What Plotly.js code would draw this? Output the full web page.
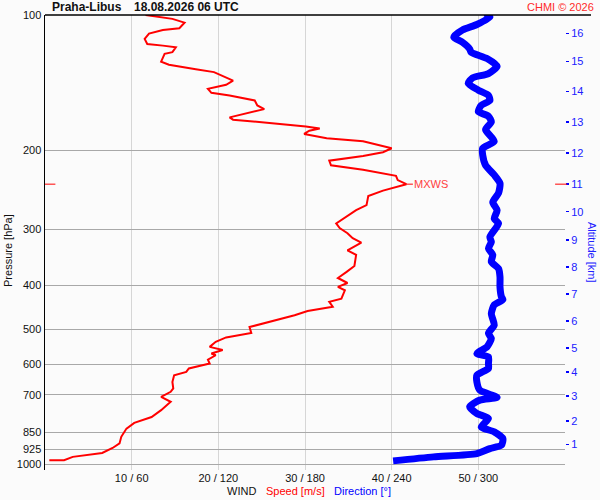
<!DOCTYPE html>
<html>
<head>
<meta charset="utf-8">
<script src="https://cdn.plot.ly/plotly-3.0.1.min.js"></script>
<style>
  html, body { margin: 0; padding: 0; background: #fbfbfb; }
  #chart { width: 600px; height: 500px; }
</style>
</head>
<body>
<div id="chart"></div>
<script>
// wind speed profile, surface upwards (hPa, m/s)
var speedPres = [980, 980, 963, 944, 920, 899, 869, 833, 809, 785, 758, 726, 708, 690, 678, 656, 634, 623, 612, 597,
  585, 572, 567, 557, 548, 534, 522, 510, 495, 482, 466, 456, 446, 435, 428, 410, 403, 395, 385, 373,
  362, 342, 334, 321, 314, 306, 298, 291, 281, 272, 265, 253, 246, 241, 238, 233, 228, 221, 216, 211,
  206, 202, 198, 191, 188, 184, 181, 179, 177, 174, 171, 169, 164, 162, 159, 155, 151, 149, 146, 143,
  140, 136, 134, 132, 129, 127, 122, 121, 118, 117, 116, 113, 110, 108, 107, 104, 102, 100];
var speed = [0.5, 2.2, 3.2, 6.6, 7.8, 8.6, 8.8, 9.4, 10.3, 12.3, 13.4, 14.5, 13.4, 14.5, 14.8, 14.7, 14.9, 16.3, 16.6, 19.0,
  18.8, 19.7, 19.2, 20.5, 19.0, 19.7, 20.9, 23.8, 23.6, 25.9, 28.8, 30.3, 33.2, 32.8, 34.2, 34.6, 33.8, 34.9, 33.8, 34.8,
  35.7, 35.9, 34.9, 36.5, 35.5, 34.9, 34.0, 33.6, 34.8, 35.9, 37.1, 37.3, 39.0, 40.5, 41.7, 40.7, 40.5, 36.7, 33.0, 32.8,
  36.7, 39.0, 40.0, 36.7, 32.5, 29.9, 30.5, 31.7, 30.1, 25.9, 21.7, 21.3, 24.4, 25.3, 24.5, 24.2, 21.3, 19.2, 18.8, 20.9,
  21.7, 20.1, 19.5, 17.4, 14.3, 13.4, 13.8, 14.7, 15.1, 13.6, 11.8, 11.5, 12.0, 13.6, 15.5, 16.1, 14.7, 11.6];

// wind direction profile, surface upwards (hPa, degrees)
var dirPres = [983, 963, 947, 923, 907, 877, 847, 826, 791, 771, 745, 720, 710, 684, 656, 634, 612, 597, 577, 567,
  548, 525, 511, 490, 462, 442, 430, 424, 403, 383, 367, 354, 342, 331, 320, 312, 291, 284, 272, 261,
  249, 237, 227, 216, 205, 198, 191, 180, 173, 168, 164, 159, 155, 151, 147, 142, 138, 135, 130, 125,
  121, 119, 115, 112, 108, 105, 101, 99];
var direction = [241, 269, 299, 308, 316, 317, 311, 302, 307, 299, 294, 301, 313, 301, 299, 299, 307, 307, 307, 299,
  306, 309, 307, 311, 309, 311, 317, 316, 315, 315, 314, 309, 310, 307, 309, 308, 314, 311, 313, 310,
  314, 315, 311, 305, 303, 303, 311, 305, 309, 307, 300, 302, 308, 307, 300, 293, 296, 307, 313, 306,
  295, 294, 289, 283, 289, 299, 308, 305];

var pressTicks = [100, 200, 300, 400, 500, 600, 700, 850, 925, 1000];
var speedTicks = [10, 20, 30, 40, 50];
var dirTicks = [60, 120, 180, 240, 300];
var altKm = [1, 2, 3, 4, 5, 6, 7, 8, 9, 10, 11, 12, 13, 14, 15, 16];
var altPres = [904, 802, 705, 624, 551, 480, 418, 364, 317, 274, 238, 203, 173, 148, 127, 110];

var font = 'Arial, "Liberation Sans", sans-serif';
var pRange = [Math.log10(1030), 2];

var iMax = 0;
for (var i = 1; i < speed.length; i++) {
  if (speed[i] > speed[iMax]) iMax = i;
}

var tickText = [];
for (var i = 0; i < speedTicks.length; i++) {
  tickText.push(speedTicks[i] + ' / ' + dirTicks[i]);
}

var traceSpeed = {
  x: speed,
  y: speedPres,
  type: 'scatter',
  mode: 'lines',
  line: { color: '#ff0000', width: 2 },
  hoverinfo: 'skip'
};

var traceDir = {
  x: direction,
  y: dirPres,
  xaxis: 'x2',
  yaxis: 'y2',
  type: 'scatter',
  mode: 'lines',
  line: { color: '#0000ff', width: 7, shape: 'spline', smoothing: 0.6 },
  hoverinfo: 'skip'
};

var layout = {
  width: 600,
  height: 500,
  margin: { l: 45, r: 35, t: 15, b: 30 },
  paper_bgcolor: '#fbfbfb',
  plot_bgcolor: '#fbfbfb',
  showlegend: false,
  font: { family: font, size: 11, color: '#111' },
  xaxis: {
    range: [0, 60],
    tickvals: speedTicks,
    ticktext: tickText,
    showgrid: true,
    gridcolor: '#d6d6d6',
    gridwidth: 1,
    zeroline: false,
    showline: false,
    ticks: '',
    tickfont: { size: 11, color: '#111' }
  },
  xaxis2: {
    overlaying: 'x',
    anchor: 'y',
    range: [0, 360],
    visible: false
  },
  yaxis: {
    type: 'log',
    range: pRange,
    tickvals: pressTicks,
    ticktext: pressTicks.map(String),
    showgrid: true,
    gridcolor: '#a8a8a8',
    gridwidth: 1,
    zeroline: false,
    showline: true,
    linecolor: '#000',
    linewidth: 1.5,
    ticks: '',
    tickfont: { size: 11, color: '#111' }
  },
  yaxis2: {
    type: 'log',
    overlaying: 'y',
    anchor: 'x',
    side: 'right',
    range: pRange,
    tickvals: altPres,
    ticktext: altKm.map(String),
    showgrid: false,
    zeroline: false,
    showline: false,
    ticks: 'outside',
    ticklen: 3,
    tickwidth: 1.5,
    tickcolor: '#0000ff',
    tickfont: { size: 11, color: '#2020ff' }
  },
  shapes: [
    { type: 'line', xref: 'paper', yref: 'paper', x0: 0, x1: 1.05, y0: 1, y1: 1,
      line: { color: '#000', width: 1.5 } },
    { type: 'line', xref: 'paper', yref: 'y', x0: 0, x1: 0.02,
      y0: speedPres[iMax], y1: speedPres[iMax], line: { color: '#ff0000', width: 1 } },
    { type: 'line', xref: 'paper', yref: 'y', x0: 0.981, x1: 1.004,
      y0: speedPres[iMax], y1: speedPres[iMax], line: { color: '#ff0000', width: 1 } }
  ],
  annotations: [
    { xref: 'paper', yref: 'paper', x: 0.0096, y: 1.0165, xanchor: 'left', yanchor: 'middle',
      text: '<b>Praha-Libus</b>', showarrow: false, font: { size: 12, color: '#111' } },
    { xref: 'paper', yref: 'paper', x: 0.1667, y: 1.0165, xanchor: 'left', yanchor: 'middle',
      text: '<b>18.08.2026 06 UTC</b>', showarrow: false, font: { size: 12, color: '#111' } },
    { xref: 'paper', yref: 'paper', x: 1.0596, y: 1.0165, xanchor: 'right', yanchor: 'middle',
      text: 'CHMI © 2026', showarrow: false, font: { size: 11, color: '#ff2a2a' } },
    { xref: 'paper', yref: 'paper', x: -0.0712, y: 0.4835, xanchor: 'center', yanchor: 'middle',
      text: 'Pressure [hPa]', textangle: -90, showarrow: false, font: { size: 11, color: '#111' } },
    { xref: 'paper', yref: 'paper', x: 1.052, y: 0.479, xanchor: 'center', yanchor: 'middle',
      text: 'Altitude [km]', textangle: 90, showarrow: false, font: { size: 11, color: '#2020ff' } },
    { xref: 'paper', yref: 'paper', x: 0.346, y: -0.0462, xanchor: 'left', yanchor: 'middle',
      text: 'WIND', showarrow: false, font: { size: 11, color: '#111' } },
    { xref: 'paper', yref: 'paper', x: 0.4212, y: -0.0462, xanchor: 'left', yanchor: 'middle',
      text: 'Speed [m/s]', showarrow: false, font: { size: 11, color: '#ff0000' } },
    { xref: 'paper', yref: 'paper', x: 0.5519, y: -0.0462, xanchor: 'left', yanchor: 'middle',
      text: 'Direction [°]', showarrow: false, font: { size: 11, color: '#0000ff' } },
    { xref: 'x', yref: 'y', x: speed[iMax], y: Math.log10(speedPres[iMax]),
      text: 'MXWS', showarrow: true, arrowhead: 0, arrowwidth: 1, arrowcolor: '#ff0000',
      ax: 25, ay: 0, standoff: 0, font: { size: 11, color: '#ff4040' } }
  ]
};

Plotly.newPlot('chart', [traceSpeed, traceDir], layout, { displayModeBar: false, staticPlot: true });
</script>
</body>
</html>
